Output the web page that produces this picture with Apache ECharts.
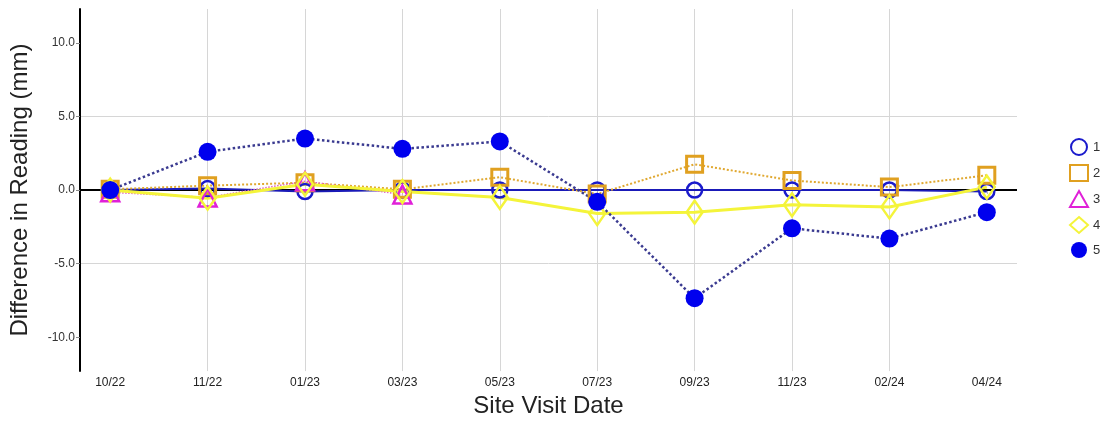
<!DOCTYPE html>
<html><head><meta charset="utf-8">
<script src="https://cdn.jsdelivr.net/npm/echarts@6/dist/echarts.min.js"></script>
<style>html,body{margin:0;padding:0;background:#fff}#c{width:1111px;height:423px}</style>
</head><body><div id="c"></div>
<script>
const categories = ['10/22','11/22','01/23','03/23','05/23','07/23','09/23','11/23','02/24','04/24'];
const yTicks = [-10, -5, 0, 5, 10];
const s1 = [0, 0.1, -0.1, 0, 0, 0, 0, 0, 0, -0.1];
const s2 = [0.05, 0.3, 0.5, 0.05, 0.87, -0.27, 1.75, 0.65, 0.2, 1.0];
const s3 = [-0.15, -0.5, 0.6, -0.3, null, null, null, null, null, null];
const s4 = [0, -0.55, 0.4, -0.1, -0.5, -1.6, -1.5, -1.0, -1.15, 0.2];
const s5 = [0, 2.6, 3.5, 2.8, 3.3, -0.8, -7.35, -2.6, -3.3, -1.5];

const toXY = arr => arr.map((v, i) => [i, v]);
const chart = echarts.init(document.getElementById('c'));
const font = 'Liberation Sans, Arial, sans-serif';
chart.setOption({
  animation: false,
  textStyle: { fontFamily: font },
  grid: { left: 80, right: 94, top: 9, bottom: 45 },
  legend: {
    orient: 'vertical', left: 1069, top: 138, itemGap: 8, itemWidth: 18, itemHeight: 16,
    textStyle: { fontSize: 13, color: '#333', fontFamily: font }, padding: 0,
    data: [
      { name: '1', icon: 'circle' },
      { name: '2', icon: 'rect' },
      { name: '3', icon: 'triangle' },
      { name: '4', icon: 'diamond' },
      { name: '5', icon: 'circle' }
    ]
  },
  xAxis: {
    type: 'value', min: -0.31, max: 9.31,
    name: 'Site Visit Date', nameLocation: 'middle', nameGap: 21,
    nameTextStyle: { fontSize: 24, color: '#222', fontFamily: font },
    axisLine: { show: false },
    axisTick: { show: true, inside: false, length: 4, lineStyle: { color: '#bbb' }, customValues: categories.map((c, i) => i) },
    axisLabel: { fontSize: 12, color: '#222', margin: 6, customValues: categories.map((c, i) => i), formatter: v => categories[Math.round(v)] },
    splitLine: { show: true, showMinLine: false, showMaxLine: false, lineStyle: { color: '#d6d6d6' } }
  },
  yAxis: {
    type: 'value', min: -12.3, max: 12.3,
    name: 'Difference in Reading (mm)', nameLocation: 'middle', nameGap: 48,
    nameTextStyle: { fontSize: 24, color: '#222', fontFamily: font },
    axisLine: { show: true, onZero: false, lineStyle: { color: '#000', width: 2 } },
    axisTick: { show: true, length: 4, lineStyle: { color: '#888' }, customValues: yTicks },
    axisLabel: { fontSize: 12, color: '#333', margin: 5, customValues: yTicks, formatter: v => v.toFixed(1) },
    splitLine: { show: true, showMinLine: false, showMaxLine: false, lineStyle: { color: '#d6d6d6' } }
  },
  series: [
    { name: '1', type: 'line', data: toXY(s1), symbol: 'circle', symbolSize: 15,
      itemStyle: { color: 'rgba(255,255,255,0)', borderColor: '#1a1acc', borderWidth: 2.5 },
      lineStyle: { color: '#1a1ab8', width: 2, type: 'solid' },
      markLine: { silent: true, z: 1, symbol: 'none', label: { show: false },
        lineStyle: { color: '#000', width: 2, type: 'solid' }, emphasis: { disabled: true },
        data: [{ yAxis: 0 }] } },
    { name: '2', type: 'line', data: toXY(s2), symbol: 'rect', symbolSize: 16,
      itemStyle: { color: 'rgba(255,255,255,0)', borderColor: '#e0a020', borderWidth: 3 },
      lineStyle: { color: '#e0a830', width: 2, type: 'dotted' } },
    { name: '3', type: 'line', data: toXY(s3), symbol: 'triangle', symbolSize: 18,
      itemStyle: { color: 'rgba(255,255,255,0)', borderColor: '#e020d8', borderWidth: 2.5 },
      lineStyle: { color: '#e060c0', width: 1.5, type: 'dotted' } },
    { name: '4', type: 'line', data: toXY(s4), symbol: 'diamond', symbolSize: [16, 23],
      itemStyle: { color: 'rgba(255,255,255,0)', borderColor: '#f4f43a', borderWidth: 2.5 },
      lineStyle: { color: '#f4f43a', width: 3, type: 'solid' } },
    { name: '5', type: 'line', data: toXY(s5), symbol: 'circle', symbolSize: 18,
      itemStyle: { color: '#0000ee', borderColor: '#0000ee', borderWidth: 0 },
      lineStyle: { color: '#3a3a90', width: 2.5, type: 'dotted' } }
  ]
});
</script></body></html>
